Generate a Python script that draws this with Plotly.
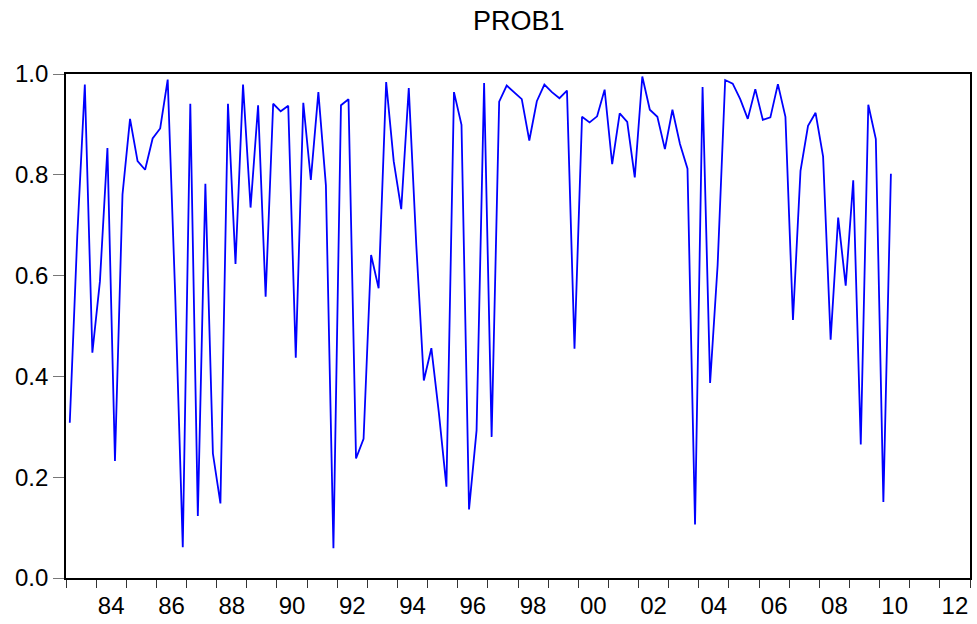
import plotly.graph_objects as go
import pandas as pd

# Quarterly series PROB1, 1983Q1 .. 2010Q2
start_quarter = "1983Q1"
prob1 = [
    0.308, 0.68, 0.979, 0.447, 0.588, 0.853, 0.232, 0.761, 0.911, 0.827,
    0.810, 0.872, 0.892, 0.989, 0.56, 0.061, 0.941, 0.123, 0.782, 0.247,
    0.148, 0.941, 0.623, 0.979, 0.735, 0.938, 0.558, 0.941, 0.926, 0.937,
    0.437, 0.943, 0.790, 0.964, 0.779, 0.059, 0.938, 0.950, 0.237, 0.276,
    0.641, 0.575, 0.984, 0.827, 0.732, 0.972, 0.66, 0.392, 0.456, 0.327,
    0.181, 0.964, 0.899, 0.136, 0.293, 0.982, 0.280, 0.945, 0.977, 0.964,
    0.950, 0.868, 0.946, 0.979, 0.964, 0.952, 0.967, 0.455, 0.915, 0.904,
    0.916, 0.969, 0.821, 0.922, 0.905, 0.795, 0.995, 0.929, 0.915, 0.851,
    0.929, 0.861, 0.812, 0.106, 0.974, 0.387, 0.621, 0.988, 0.981, 0.950,
    0.911, 0.970, 0.909, 0.914, 0.980, 0.915, 0.512, 0.808, 0.897, 0.923,
    0.836, 0.473, 0.715, 0.580, 0.789, 0.265, 0.939, 0.871, 0.151, 0.802,
]

year_ticks = list(range(1983, 2014))
label_years = list(range(1984, 2013, 2))
label_text = [f"{y % 100:02d}" for y in label_years]
y_ticks = [0.0, 0.2, 0.4, 0.6, 0.8, 1.0]

periods = pd.period_range(start_quarter, periods=len(prob1), freq="Q")
# position each quarter at the middle of its period (decimal years)
x_vals = [p.year + (p.quarter - 1) / 4 + 0.125 for p in periods]

fig = go.Figure()
fig.add_trace(go.Scatter(
    x=x_vals, y=prob1, mode="lines",
    line=dict(color="#0000FF", width=1.8),
    showlegend=False, hoverinfo="skip",
))

font_family = "Liberation Sans, Arial, sans-serif"

fig.update_layout(
    width=977, height=624,
    margin=dict(l=66, r=5, t=74, b=44),
    paper_bgcolor="white", plot_bgcolor="white",
    title=dict(text="PROB1", x=0.531, xanchor="center", y=1 - 21 / 624,
               yanchor="middle", yref="container",
               font=dict(family=font_family, size=27, color="black")),
    font=dict(family=font_family, color="black"),
    xaxis=dict(
        range=[year_ticks[0], year_ticks[-1]],
        tickmode="array",
        tickvals=[y + 0.5 for y in label_years],
        ticktext=label_text,
        ticks="", ticklen=0,
        ticklabelstandoff=5,
        tickfont=dict(size=24, family=font_family, color="black"),
        showgrid=False, zeroline=False,
        showline=True, linecolor="black", linewidth=1.6, mirror=True,
        minor=dict(tickmode="array", tickvals=year_ticks, ticks="outside",
                   ticklen=8, tickwidth=1.2, tickcolor="#333333", showgrid=False),
    ),
    yaxis=dict(
        range=[0, 1],
        tickmode="array", tickvals=y_ticks,
        ticktext=[f"{v:.1f}" for v in y_ticks],
        ticks="outside", ticklen=11, tickwidth=1.2, tickcolor="#777777",
        tickfont=dict(size=24, family=font_family, color="black"),
        showgrid=False, zeroline=False,
        showline=True, linecolor="black", linewidth=1.6, mirror=True,
    ),
)

fig.write_html("out.html")
